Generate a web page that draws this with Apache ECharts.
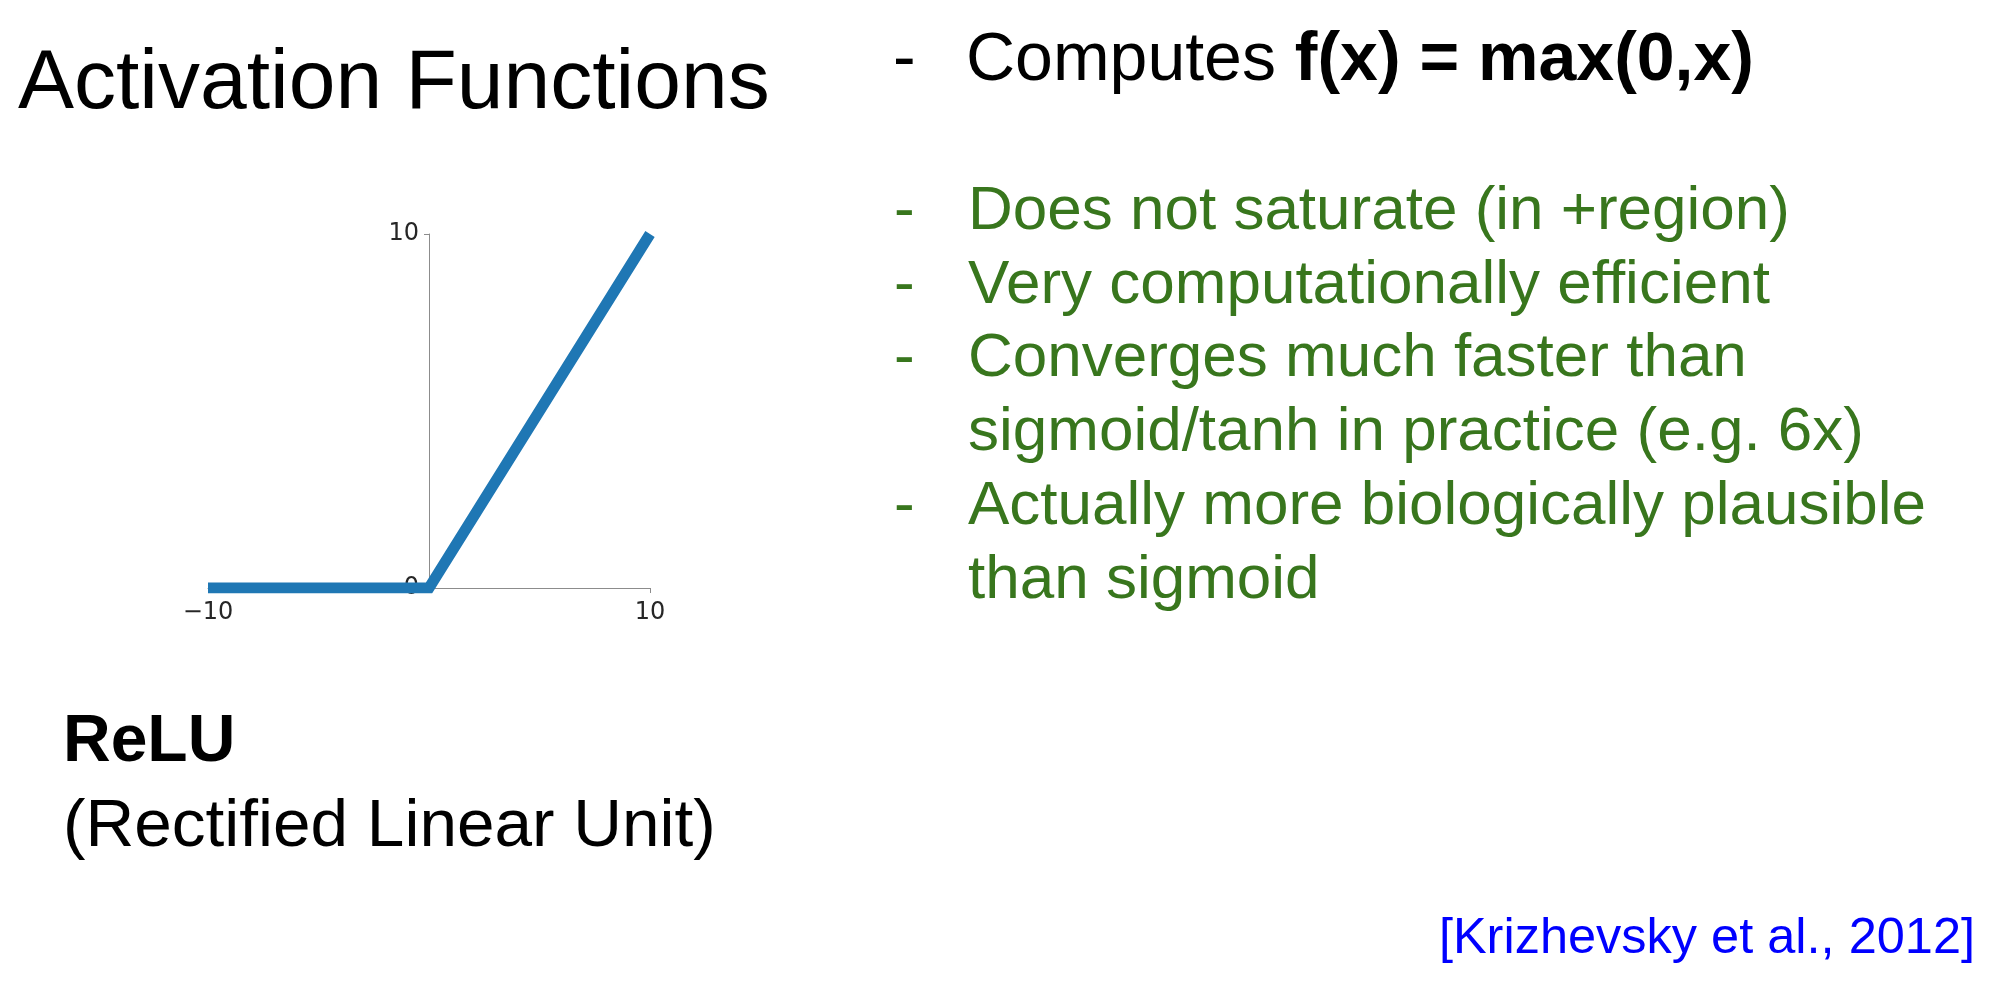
<!DOCTYPE html>
<html>
<head>
<meta charset="utf-8">
<script src="https://cdn.jsdelivr.net/npm/echarts@6/dist/echarts.min.js"></script>
<style>
  html, body { margin: 0; padding: 0; background: #fff; }
  #chart { width: 2000px; height: 986px; }
</style>
</head>
<body>
<div id="chart"></div>
<script>
// ReLU curve points
var reluX = [-10, 0, 10]
var reluY = [0, 0, 10]

// axis ranges / ticks
var xTicks = [-10, 10]
var yTicks = [0, 10]

var bullets = [
  { dash: true, text: 'Does not saturate (in +region)' },
  { dash: true, text: 'Very computationally efficient' },
  { dash: true, text: 'Converges much faster than' },
  { dash: false, text: 'sigmoid/tanh in practice (e.g. 6x)' },
  { dash: true, text: 'Actually more biologically plausible' },
  { dash: false, text: 'than sigmoid' }
]

var SANS = '"Liberation Sans", Arial, Helvetica, sans-serif'
var TICK_FONT = '"DejaVu Sans", sans-serif'
var GREEN = '#38761d'
var GRID_LEFT = 208

var chart = echarts.init(document.getElementById('chart'))

// text elements of the slide
var texts = []
function addText(x, y, str, opts) {
  texts.push({
    type: 'text',
    x: x,
    y: y,
    style: Object.assign({
      text: str,
      fill: '#000',
      fontFamily: SANS,
      fontSize: 68,
      verticalAlign: 'middle',
      textAlign: 'left'
    }, opts || {})
  })
}

addText(18, 85, 'Activation Functions', { fontSize: 84 })

// first bullet, mixed weight
addText(893, 61, '-')
texts.push({
  type: 'text',
  x: 966,
  y: 61,
  style: {
    text: '{n|Computes }{b|f(x) = max(0,x)}',
    verticalAlign: 'middle',
    rich: {
      n: { fontFamily: SANS, fontSize: 68, fill: '#000' },
      b: { fontFamily: SANS, fontSize: 68, fontWeight: 'bold', fill: '#000' }
    }
  }
})

var lineStep = 73.7
bullets.forEach(function (b, i) {
  var y = 212 + i * lineStep
  if (b.dash) addText(894, y, '-', { fill: GREEN, fontSize: 62 })
  addText(968, y, b.text, { fill: GREEN, fontSize: 62 })
})

addText(63, 743, 'ReLU', { fontSize: 66, fontWeight: 'bold' })
addText(63, 827, '(Rectified Linear Unit)', { fontSize: 67.5 })
addText(1975, 939, '[Krizhevsky et al., 2012]', { fontSize: 50.5, fill: '#0000ff', textAlign: 'right' })

var seriesData = reluX.map(function (x, i) { return [x, reluY[i]] })

chart.setOption({
  animation: false,
  backgroundColor: '#fff',
  grid: {
    left: GRID_LEFT,
    top: 234,
    width: 442,
    height: 354,
    containLabel: false,
    outerBoundsMode: 'none'
  },
  xAxis: {
    type: 'value',
    min: xTicks[0],
    max: xTicks[1],
    interval: 10,
    splitLine: { show: false },
    axisLine: { lineStyle: { color: '#8c8c8c', width: 1 } },
    axisTick: { length: 5, lineStyle: { color: '#8c8c8c' } },
    axisLabel: {
      color: '#262626',
      fontFamily: TICK_FONT,
      fontSize: 24,
      margin: 13,
      formatter: function (v) {
        // only the two ends are labelled, with a real minus sign
        if (xTicks.indexOf(v) < 0) return ''
        return String(v).replace('-', '\u2212')
      }
    }
  },
  yAxis: {
    type: 'value',
    min: yTicks[0],
    max: yTicks[1],
    interval: 10,
    splitLine: { show: false },
    axisLine: { onZero: false, lineStyle: { color: '#8c8c8c', width: 1 } },
    axisTick: { length: 5, lineStyle: { color: '#8c8c8c' } },
    axisLabel: {
      color: '#262626',
      fontFamily: TICK_FONT,
      fontSize: 24,
      margin: 10
    }
  },
  series: [{
    type: 'line',
    data: seriesData,
    showSymbol: false,
    symbol: 'none',
    lineStyle: { color: '#1f77b4', width: 11, cap: 'butt', join: 'miter' },
    itemStyle: { color: '#1f77b4' }
  }],
  graphic: texts
})

// put the whole y axis (line, ticks, labels) where x = 0
var zeroPx = chart.convertToPixel({ xAxisIndex: 0 }, 0)
chart.setOption({ yAxis: { offset: GRID_LEFT - zeroPx } })
</script>
</body>
</html>
